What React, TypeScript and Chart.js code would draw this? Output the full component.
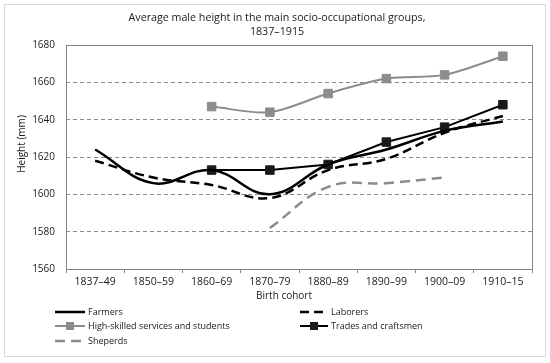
import { useEffect, useRef } from 'react';
import { Chart, registerables } from 'chart.js';
Chart.register(...registerables);

const cohorts = ['1837–49', '1850–59', '1860–69', '1870–79', '1880–89', '1890–99', '1900–09', '1910–15'];
const farmers = [1624, 1606, 1613, 1600, 1616, 1624, 1634, 1639];
const laborers = [1618, 1609, 1605, 1598, 1613, 1619, 1633, 1642];
const highSkilled = [null, null, 1647, 1644, 1654, 1662, 1664, 1674];
const trades = [null, null, 1613, 1613, 1616, 1628, 1636, 1648];
const sheperds = [null, null, null, 1582, 1604, 1606, 1609, null];
const yMin = 1560;
const yMax = 1680;
const yStep = 20;

const titleLines = ['Average male height in the main socio-occupational groups,', '1837–1915'];
const xTitle = 'Birth cohort';
const yTitle = 'Height (mm)';

const FONT = '"Open Sans", sans-serif';
const TEXT = '#1a1a1a';
const FRAME = '#868686';

const decor = {
  id: 'decor',
  beforeDraw(chart: any) {
    const ctx = chart.ctx;
    ctx.save();
    ctx.fillStyle = '#ffffff';
    ctx.fillRect(0, 0, chart.width, chart.height);
    ctx.strokeStyle = '#d9d9d9';
    ctx.lineWidth = 1;
    ctx.strokeRect(4.5, 4.5, 541, 352);
    ctx.restore();
  },
  beforeDatasetsDraw(chart: any) {
    const ctx = chart.ctx;
    const { left, top, right, bottom } = chart.chartArea;
    ctx.save();
    ctx.strokeStyle = FRAME;
    ctx.lineWidth = 1;
    const l = Math.round(left) + 0.5;
    const t = Math.round(top) + 0.5;
    const r = Math.round(right) + 0.5;
    const b = Math.round(bottom) + 0.5;
    ctx.strokeRect(l, t, r - l, b - t);
    ctx.restore();
  },
  afterDraw(chart: any) {
    const ctx = chart.ctx;
    ctx.save();
    ctx.fillStyle = TEXT;
    ctx.textBaseline = 'middle';
    // title
    ctx.textAlign = 'center';
    ctx.font = `10.7px ${FONT}`;
    ctx.fillText(titleLines[0], 277, 18);
    ctx.fillText(titleLines[1], 277, 32);
    // axis titles
    ctx.font = `10px ${FONT}`;
    ctx.fillText(xTitle, 284, 296);
    ctx.save();
    ctx.translate(22, 144);
    ctx.rotate(-Math.PI / 2);
    ctx.fillText(yTitle, 0, 0);
    ctx.restore();
    // legend
    const colX = [55, 300];
    const rowY = [312, 326, 341];
    ctx.font = `9px ${FONT}`;
    ctx.textAlign = 'left';
    chart.data.datasets.forEach((ds: any, i: number) => {
      const x0 = colX[i % 2];
      const y0 = rowY[Math.floor(i / 2)];
      const len = i % 2 === 0 ? 30 : 28;
      ctx.save();
      ctx.strokeStyle = ds.borderColor;
      ctx.lineWidth = ds.borderWidth;
      ctx.setLineDash(ds.borderDash || []);
      ctx.beginPath();
      ctx.moveTo(x0, y0);
      ctx.lineTo(x0 + len, y0);
      ctx.stroke();
      if (ds.pointRadius > 0) {
        ctx.fillStyle = ds.pointBackgroundColor;
        ctx.fillRect(x0 + len / 2 - 4, y0 - 4, 8, 8);
      }
      ctx.restore();
      ctx.fillStyle = TEXT;
      ctx.fillText(ds.label, x0 + len + 3, y0 + 0.5);
    });
    ctx.restore();
  },
};

export default function App() {
  const ref = useRef<HTMLCanvasElement>(null);
  useEffect(() => {
    if (!ref.current) return;
    const chart = new Chart(ref.current, {
      type: 'line',
      data: {
        labels: cohorts,
        datasets: [
          {
            label: 'Farmers', data: farmers, borderColor: '#000000', borderWidth: 2.5,
            pointRadius: 0, tension: 0.4, fill: false,
          },
          {
            label: 'Laborers', data: laborers, borderColor: '#000000', borderWidth: 2.5,
            borderDash: [9, 5], pointRadius: 0, tension: 0.4, fill: false,
          },
          {
            label: 'High-skilled services and students', data: highSkilled, borderColor: '#8c8c8c',
            borderWidth: 2, pointStyle: 'rect', pointRadius: 6, pointBorderWidth: 1,
            pointBackgroundColor: '#8c8c8c', pointBorderColor: '#8c8c8c', tension: 0.3, fill: false,
          },
          {
            label: 'Trades and craftsmen', data: trades, borderColor: '#000000',
            borderWidth: 2, pointStyle: 'rect', pointRadius: 6, pointBorderWidth: 1,
            pointBackgroundColor: '#1a1a1a', pointBorderColor: '#1a1a1a', tension: 0, fill: false,
          },
          {
            label: 'Sheperds', data: sheperds, borderColor: '#8c8c8c', borderWidth: 2.5,
            borderDash: [10, 6], pointRadius: 0, tension: 0.4, fill: false,
          },
        ] as any,
      },
      options: {
        responsive: false,
        animation: false,
        devicePixelRatio: 1,
        layout: { padding: { left: 10, top: 45, right: 18, bottom: 74 } },
        plugins: { legend: { display: false }, title: { display: false }, tooltip: { enabled: false } },
        scales: {
          x: {
            type: 'category',
            offset: true,
            afterFit: (s: any) => { s.height = 20; },
            grid: {
              offset: true, drawOnChartArea: false, drawTicks: true, tickLength: 4,
              tickColor: FRAME, color: FRAME,
            },
            border: { display: false },
            ticks: {
              color: TEXT, font: { family: FONT, size: 10.5 }, padding: 3,
              autoSkip: false, maxRotation: 0,
            },
          },
          y: {
            min: yMin, max: yMax,
            afterFit: (s: any) => { s.width = 56; },
            grid: {
              drawTicks: false,
              color: (c: any) => (!c.tick || c.tick.value === yMin || c.tick.value === yMax ? 'rgba(0,0,0,0)' : '#8a8a8a'),
              lineWidth: 1,
            },
            border: { display: false, dash: [4, 3] },
            ticks: {
              stepSize: yStep, color: TEXT, font: { family: FONT, size: 10 }, padding: 11,
              callback: (v: any) => String(v),
            },
          },
        },
      },
      plugins: [decor],
    } as any);
    return () => chart.destroy();
  }, []);
  return (
    <div style={{ position: 'fixed', left: 0, top: 0, width: 550, height: 363 }}>
      <canvas ref={ref} width={550} height={363} />
    </div>
  );
}
